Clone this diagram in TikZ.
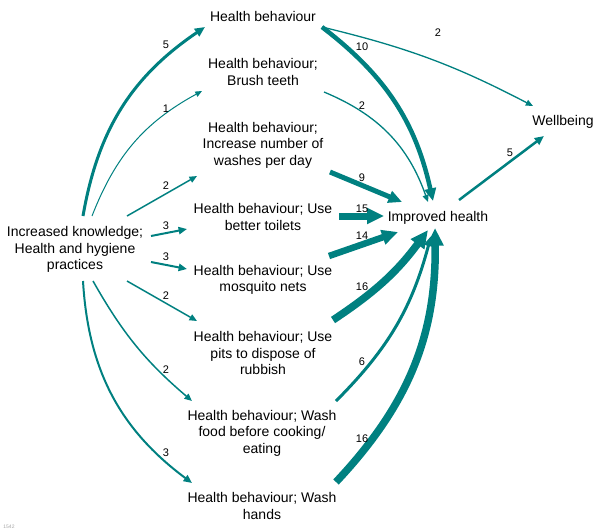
\documentclass[tikz,border=0pt]{standalone}
\usepackage{fontspec}
\setmainfont{Liberation Sans}
\usetikzlibrary{arrows.meta,calc}
\definecolor{tealc}{RGB}{0,128,128}
\begin{document}
\begin{tikzpicture}[x=1pt,y=-1pt,
  txt/.style={align=center,inner sep=0pt,font=\fontsize{14}{16.5}\selectfont},
  lbl/.style={inner sep=0pt,font=\fontsize{11}{13}\selectfont},
  conn/.style={draw=tealc,-{Triangle[length=5pt 1.7,width=4pt 1.6]}}]
\path[use as bounding box] (0,0) rectangle (602,531);
% nodes
\node[txt] (kn) at (75,249.5) {Increased knowledge;\\Health and hygiene\\practices};
\node[txt] (hb) at (263,16) {Health behaviour};
\node[txt] (bt) at (263,72) {Health behaviour;\\Brush teeth};
\node[txt] (wpd) at (263,145) {Health behaviour;\\Increase number of\\washes per day};
\node[txt] (tl) at (263,217) {Health behaviour; Use\\better toilets};
\node[txt] (mn) at (263,280) {Health behaviour; Use\\mosquito nets};
\node[txt] (pt) at (263,353) {Health behaviour; Use\\pits to dispose of\\rubbish};
\node[txt] (wf) at (262,433) {Health behaviour; Wash\\food before cooking/\\eating};
\node[txt] (wh) at (262,506) {Health behaviour; Wash\\hands};
\node[txt] (ih) at (438,217.5) {Improved health};
\node[txt] (wb) at (563,121.5) {Wellbeing};
\node[inner sep=0pt,font=\fontsize{5}{6}\selectfont,text=black!35] (ft) at (9,527) {1542};
% connectors from knowledge
\draw[conn,line width=3pt] ($(kn)+(8,-33.5)$) to[bend left=23] ($(hb)+(-58,11)$);
\draw[conn,line width=1pt] ($(kn)+(17,-33.5)$) to[bend left=20] ($(bt)+(-61,19)$);
\draw[conn,line width=1.5pt] ($(kn)+(52,-33.5)$) -- ($(wpd)+(-66,31)$);
\draw[conn,line width=2pt] ($(kn)+(76,-13.5)$) -- ($(tl)+(-76,12)$);
\draw[conn,line width=2pt] ($(kn)+(76,12.5)$) -- ($(mn)+(-76,-11)$);
\draw[conn,line width=1.5pt] ($(kn)+(52,31.5)$) -- ($(pt)+(-66,-32)$);
\draw[conn,line width=1.5pt] ($(kn)+(18,31.5)$) to[bend right=10] ($(wf)+(-70,-32)$);
\draw[conn,line width=2pt] ($(kn)+(8,31.5)$) to[bend right=25] ($(wh)+(-70,-23)$);
% connectors to improved health
\draw[conn,line width=4.5pt] ($(hb)+(59,11)$) to[bend left=20] ($(ih)+(-5,-16.5)$);
\draw[conn,line width=1.3pt] ($(bt)+(61,20)$) to[bend left=24] ($(ih)+(-10,-15.5)$);
\draw[conn,line width=5pt] ($(wpd)+(67,27)$) -- ($(ih)+(-36,-15.5)$);
\draw[conn,line width=7pt] ($(tl)+(76,-1)$) -- ($(ih)+(-54,-1.5)$);
\draw[conn,line width=6.5pt] ($(mn)+(66,-24)$) -- ($(ih)+(-40,14.5)$);
\draw[conn,line width=7.5pt] ($(pt)+(70,-33)$) to[bend right=10] ($(ih)+(-10,12.5)$);
\draw[conn,line width=3pt] ($(wf)+(74,-32)$) to[bend right=15] ($(ih)+(-7,18.5)$);
\draw[conn,line width=7.5pt] ($(wh)+(74,-24)$) to[bend right=22] ($(ih)+(-3,10.5)$);
% to wellbeing
\draw[conn,line width=1.3pt] ($(hb)+(59,11)$) to[bend left=7] ($(wb)+(-30,-15.5)$);
\draw[conn,line width=2.5pt] ($(ih)+(21,-17.5)$) -- ($(wb)+(-19,14.5)$);
% labels
\node[lbl] (l1) at (166,45) {5};
\node[lbl] (l2) at (166,109) {1};
\node[lbl] (l3) at (166,186) {2};
\node[lbl] (l4) at (166,226) {3};
\node[lbl] (l5) at (166,257) {3};
\node[lbl] (l6) at (166,296) {2};
\node[lbl] (l7) at (166,370) {2};
\node[lbl] (l8) at (166,453) {3};
\node[lbl] (r1) at (362,47) {10};
\node[lbl] (r2) at (362,106) {2};
\node[lbl] (r3) at (362,178) {9};
\node[lbl] (r4) at (362,209) {15};
\node[lbl] (r5) at (362,236) {14};
\node[lbl] (r6) at (362,287) {16};
\node[lbl] (r7) at (362,362) {6};
\node[lbl] (r8) at (362,439) {16};
\node[lbl] (w1) at (438,33) {2};
\node[lbl] (w2) at (510,153) {5};
\end{tikzpicture}
\end{document}
